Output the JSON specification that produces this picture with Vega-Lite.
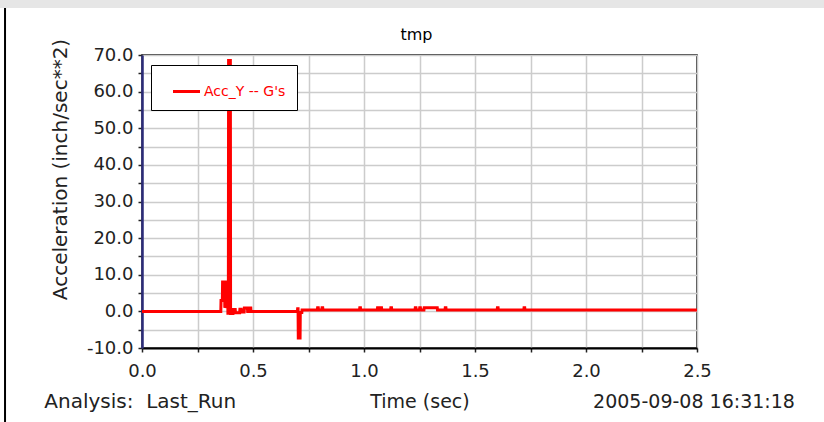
{
  "$schema": "https://vega.github.io/schema/vega-lite/v6.json",
  "autosize": "none",
  "width": 555,
  "height": 293,
  "padding": {"left": 142, "top": 55, "right": 127, "bottom": 74},
  "background": "white",
  "config": {
    "view": {"stroke": "#000", "strokeWidth": 1.5},
    "font": "DejaVu Sans",
    "axis": {"labelOverlap": false}
  },
  "datasets": {
    "acc": [
      {"t": 0, "v": 0}, {"t": 0.355, "v": 0}, {"t": 0.356, "v": 3}, {"t": 0.362, "v": 3},
      {"t": 0.363, "v": 8}, {"t": 0.372, "v": 8}, {"t": 0.373, "v": 1}, {"t": 0.378, "v": 2},
      {"t": 0.379, "v": 8}, {"t": 0.386, "v": 8}, {"t": 0.387, "v": -0.5}, {"t": 0.389, "v": -0.5},
      {"t": 0.39, "v": 68.5}, {"t": 0.398, "v": 68.5}, {"t": 0.399, "v": -0.6}, {"t": 0.41, "v": -0.6},
      {"t": 0.411, "v": 0.5}, {"t": 0.42, "v": 0.5}, {"t": 0.421, "v": -0.4}, {"t": 0.44, "v": -0.4},
      {"t": 0.441, "v": 0.6}, {"t": 0.447, "v": 0.6}, {"t": 0.448, "v": -0.2}, {"t": 0.46, "v": -0.2},
      {"t": 0.461, "v": 0.9}, {"t": 0.475, "v": 0.9}, {"t": 0.476, "v": 0}, {"t": 0.48, "v": 0},
      {"t": 0.481, "v": 0.9}, {"t": 0.49, "v": 0.9}, {"t": 0.491, "v": 0}, {"t": 0.7, "v": 0},
      {"t": 0.701, "v": 0.7}, {"t": 0.703, "v": 0.7}, {"t": 0.704, "v": -7.3}, {"t": 0.712, "v": -7.3},
      {"t": 0.713, "v": -0.3}, {"t": 0.72, "v": -0.3}, {"t": 0.721, "v": 0.4},
      {"t": 0.79, "v": 0.4}, {"t": 0.791, "v": 1.0}, {"t": 0.794, "v": 1.0}, {"t": 0.795, "v": 0.4},
      {"t": 0.81, "v": 0.4}, {"t": 0.811, "v": 1.0}, {"t": 0.814, "v": 1.0}, {"t": 0.815, "v": 0.4},
      {"t": 0.98, "v": 0.4}, {"t": 0.981, "v": 1.0}, {"t": 0.984, "v": 1.0}, {"t": 0.985, "v": 0.4},
      {"t": 1.06, "v": 0.4}, {"t": 1.061, "v": 1.0}, {"t": 1.064, "v": 1.0}, {"t": 1.065, "v": 0.4},
      {"t": 1.075, "v": 0.4}, {"t": 1.076, "v": 1.0}, {"t": 1.079, "v": 1.0}, {"t": 1.08, "v": 0.4},
      {"t": 1.12, "v": 0.4}, {"t": 1.121, "v": 1.0}, {"t": 1.124, "v": 1.0}, {"t": 1.125, "v": 0.4},
      {"t": 1.23, "v": 0.4}, {"t": 1.231, "v": 1.0}, {"t": 1.234, "v": 1.0}, {"t": 1.235, "v": 0.4},
      {"t": 1.25, "v": 0.4}, {"t": 1.251, "v": 1.0}, {"t": 1.254, "v": 1.0}, {"t": 1.255, "v": 0.4},
      {"t": 1.27, "v": 0.4}, {"t": 1.271, "v": 1.0}, {"t": 1.33, "v": 1.0}, {"t": 1.331, "v": 0.4},
      {"t": 1.365, "v": 0.4}, {"t": 1.366, "v": 1.0}, {"t": 1.369, "v": 1.0}, {"t": 1.37, "v": 0.4},
      {"t": 1.6, "v": 0.4}, {"t": 1.601, "v": 1.0}, {"t": 1.604, "v": 1.0}, {"t": 1.605, "v": 0.4},
      {"t": 1.72, "v": 0.4}, {"t": 1.721, "v": 1.0}, {"t": 1.724, "v": 1.0}, {"t": 1.725, "v": 0.4},
      {"t": 2.5, "v": 0.4}
    ]
  },
  "layer": [
    {
      "data": {"name": "acc"},
      "mark": {"type": "line", "strokeWidth": 3, "interpolate": "linear"},
      "encoding": {
        "x": {
          "field": "t", "type": "quantitative",
          "scale": {"domain": [0, 2.5], "nice": false, "zero": false},
          "axis": {
            "title": "Time (sec)",
            "values": [0, 0.25, 0.5, 0.75, 1, 1.25, 1.5, 1.75, 2, 2.25, 2.5],
            "tickCount": 20,
            "labelExpr": "datum.value % 0.5 == 0 ? format(datum.value, '.1f') : ''",
            "labelFont": "DejaVu Sans", "labelFontSize": 18, "labelColor": "#222",
            "labelPadding": 10, "labelFlush": false, "labelOverlap": false,
            "titleFont": "DejaVu Sans", "titleFontSize": 19, "titleFontWeight": "normal", "titleColor": "#222",
            "titlePadding": 12,
            "grid": true, "gridColor": "#cccccc", "gridWidth": 1.5,
            "domainColor": "#000", "domainWidth": 2,
            "ticks": true, "tickSize": 4, "tickColor": "#222", "tickWidth": 1.5
          }
        },
        "y": {
          "field": "v", "type": "quantitative",
          "scale": {"domain": [-10, 70], "nice": false, "zero": false},
          "axis": {
            "title": "Acceleration (inch/sec**2)",
            "values": [-10, -5, 0, 5, 10, 15, 20, 25, 30, 35, 40, 45, 50, 55, 60, 65, 70],
            "tickCount": 40,
            "labelExpr": "datum.value % 10 == 0 ? replace(format(datum.value, '.1f'), '\u2212', '-') : ''",
            "labelFont": "DejaVu Sans", "labelFontSize": 18, "labelColor": "#222",
            "labelPadding": 5, "labelFlush": false, "labelOverlap": false,
            "titleFont": "DejaVu Sans", "titleFontSize": 20, "titleFontWeight": "normal", "titleColor": "#222",
            "titleX": -72, "titleY": 114, "titleAngle": 270, "titleAlign": "center", "titleBaseline": "bottom",
            "grid": true, "gridColor": "#cccccc", "gridWidth": 1.5,
            "domainColor": "#2c2c7a", "domainWidth": 2.5,
            "ticks": true, "tickSize": 4, "tickColor": "#222", "tickWidth": 1.5
          }
        },
        "color": {
          "datum": "Acc_Y -- G's",
          "scale": {"range": ["#ff0000"]},
          "legend": {
            "title": null, "orient": "none", "legendX": 9, "legendY": 10,
            "symbolType": "stroke", "symbolStrokeWidth": 3, "symbolSize": 730,
            "symbolOffset": 9, "labelOffset": 2,
            "labelFont": "DejaVu Sans", "labelFontSize": 14, "labelColor": "#ff0000",
            "padding": 11, "strokeColor": "#000", "fillColor": "#ffffff",
            "cornerRadius": 0
          }
        }
      }
    },
    {
      "data": {"values": [{"x": -0.64, "x2": 3.08, "y": 85.1, "y2": 82.8}]},
      "mark": {"type": "rect", "color": "#e6e6e6"},
      "encoding": {
        "x": {"field": "x", "type": "quantitative"},
        "x2": {"field": "x2"},
        "y": {"field": "y", "type": "quantitative"},
        "y2": {"field": "y2"}
      }
    },
    {
      "data": {"values": [{"x": -0.617, "y": 82.8, "y2": -31}]},
      "mark": {"type": "rule", "color": "#000", "strokeWidth": 2},
      "encoding": {
        "x": {"field": "x", "type": "quantitative"},
        "y": {"field": "y", "type": "quantitative"},
        "y2": {"field": "y2"}
      }
    },
    {
      "data": {"values": [{"label": "tmp", "x": 1.236, "y": 74.1}]},
      "mark": {"type": "text", "font": "DejaVu Sans", "fontSize": 16, "color": "#000", "baseline": "alphabetic", "align": "center"},
      "encoding": {
        "x": {"field": "x", "type": "quantitative"},
        "y": {"field": "y", "type": "quantitative"},
        "text": {"field": "label"}
      }
    },
    {
      "data": {"values": [{"label": "Analysis:\u00a0 Last_Run", "x": -0.44, "y": -26.4}]},
      "mark": {"type": "text", "font": "DejaVu Sans", "fontSize": 20, "color": "#222", "baseline": "alphabetic", "align": "left"},
      "encoding": {
        "x": {"field": "x", "type": "quantitative"},
        "y": {"field": "y", "type": "quantitative"},
        "text": {"field": "label"}
      }
    },
    {
      "data": {"values": [{"label": "2005-09-08 16:31:18", "x": 2.941, "y": -26.4}]},
      "mark": {"type": "text", "font": "DejaVu Sans", "fontSize": 19, "color": "#222", "baseline": "alphabetic", "align": "right"},
      "encoding": {
        "x": {"field": "x", "type": "quantitative"},
        "y": {"field": "y", "type": "quantitative"},
        "text": {"field": "label"}
      }
    }
  ]
}
